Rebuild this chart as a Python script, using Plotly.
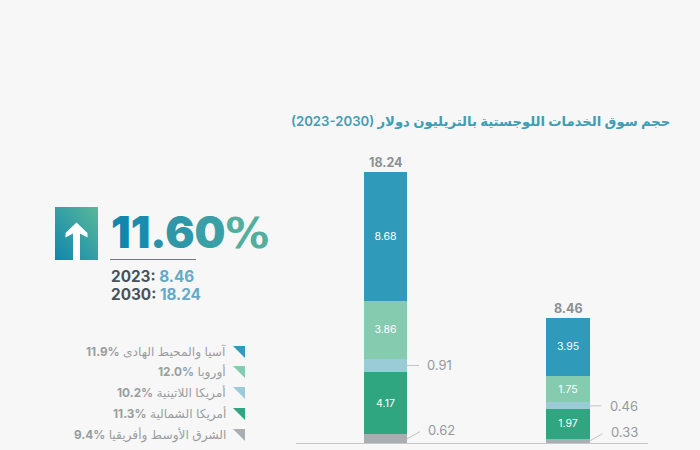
import base64
import plotly.graph_objects as go

years = ["2030", "2023"]
regions = ["الشرق الأوسط وأفريقيا", "أمريكا الشمالية", "أمريكا اللاتينية", "أوروبا", "آسيا والمحيط الهادى"]
growth = ["9.4%", "11.3%", "10.2%", "12.0%", "11.9%"]
colors = ["#a9aeb2", "#2fa67f", "#9accd8", "#84cbb0", "#2f9aba"]
v2030 = [0.62, 4.17, 0.91, 3.86, 8.68]
v2023 = [0.33, 1.97, 0.46, 1.75, 3.95]
totals = [18.24, 8.46]
cagr = "11.60%"
title = "حجم سوق الخدمات اللوجستية بالتريليون دولار"
span = "(2023-2030)"

W, H = 700, 450
BASE = 443.5
SCALE = 14.885
X0, X1 = 385.5, 568.0
UNIT = X1 - X0

def px(p):
    return p / W
def py(p):
    return 1 - p / H

fig = go.Figure()
for i, name in enumerate(regions):
    vals = [v2030[i], v2023[i]]
    inside = [f"{v:.2f}" if v >= 1 else "" for v in vals]
    fig.add_bar(x=years, y=vals, name=name, marker=dict(color=colors[i], line_width=0),
                text=inside, textposition="inside", insidetextanchor="middle",
                textangle=0, insidetextfont=dict(color="white", size=10.5, family="Inter"),
                hoverinfo="skip")

fig.update_layout(
    width=W, height=H, margin=dict(l=0, r=0, t=0, b=0), autosize=False,
    barmode="stack", bargap=0.762, showlegend=False,
    paper_bgcolor="#f7f7f7", plot_bgcolor="rgba(0,0,0,0)",
    font=dict(family="Inter, DejaVu Sans, sans-serif"),
    xaxis=dict(type="category", categoryorder="array", categoryarray=years,
               range=[(0 - X0) / UNIT, (W - X0) / UNIT], domain=[0, 1],
               showgrid=False, showline=False, zeroline=False, showticklabels=False, ticks=""),
    yaxis=dict(range=[(BASE - H) / SCALE, BASE / SCALE], domain=[0, 1],
               showgrid=False, zeroline=False, showline=False, showticklabels=False, ticks=""),
)

# baseline
fig.add_shape(type="line", xref="paper", yref="y", x0=px(296), x1=px(648), y0=0, y1=0,
              line=dict(color="#c4c6c8", width=1.2))

def note(text, x, y, size, color, anchor="left", family="Inter, DejaVu Sans", weight=None):
    fig.add_annotation(text=text, xref="paper", yref="paper", x=px(x), y=py(y), showarrow=False,
                       xanchor=anchor, yanchor="middle", align=anchor,
                       font=dict(size=size, color=color, family=family, weight=weight))

# totals above bars (category axes take the category's index here)
for i, t in enumerate(totals):
    fig.add_annotation(xref="x", yref="y", x=i, y=t, text=f"{t:.2f}", showarrow=False,
                       yanchor="bottom", yshift=0,
                       font=dict(size=12.5, color="#8c8f92", family="Inter", weight=700))

# outside labels with leader lines
def leader(cat, vals, idx, ax, ay):
    mid = sum(vals[:idx]) + vals[idx] / 2
    fig.add_annotation(xref="x", yref="y", x=cat, y=mid, xshift=21.5, ax=ax, ay=ay,
                       axref="pixel", ayref="pixel",
                       text=" ", showarrow=True, arrowhead=0, arrowwidth=1, arrowcolor="#c0c2c4",
                       standoff=0, startstandoff=0)
    fig.add_annotation(xref="x", yref="y", x=cat, y=mid, xshift=21.5 + ax + 3, yshift=-ay,
                       text=f"{vals[idx]:.2f}", showarrow=False, xanchor="left",
                       font=dict(size=13, color="#96999c", family="Inter"))

leader(0, v2030, 2, 15, 0)
leader(0, v2030, 0, 16, -9)
leader(1, v2023, 2, 15, 0)
leader(1, v2023, 0, 16, -9)

# title
note(f"{span} {title}", 672, 121, 13.2, "#3f9db4", anchor="right", weight=600)

# icon: gradient square with arrow
svg = ('<svg xmlns="http://www.w3.org/2000/svg" width="43" height="53" viewBox="0 0 43 53">'
       '<defs><linearGradient id="g" x1="0" y1="1" x2="1" y2="0">'
       '<stop offset="0" stop-color="#0f86ad"/><stop offset="1" stop-color="#5ab89a"/></linearGradient></defs>'
       '<rect width="43" height="53" fill="url(#g)"/>'
       '<path d="M21.5 15.5 L32.5 26 L32.5 30.5 L25 26.5 L25 53 L18 53 L18 26.5 L10.5 30.5 L10.5 26 Z" fill="#ffffff"/></svg>')
uri = "data:image/svg+xml;base64," + base64.b64encode(svg.encode()).decode()
fig.add_layout_image(source=uri, xref="paper", yref="paper", x=px(55), y=py(207), sizex=43 / W, sizey=53 / H,
                     xanchor="left", yanchor="top", sizing="stretch", layer="above")

# big percent with a per-glyph gradient; the percent sign uses a wider bold face
grad = ["#1286ab", "#1a8cae", "#2792a8", "#2f98a8", "#3a9fa6", "#52ae9d"]
big = "".join(f'<span style="color:{c}">{ch}</span>' for ch, c in zip(cagr[:-1], grad))
big += f'<span style="color:{grad[-1]};font-family:DejaVu Sans;font-weight:700">{cagr[-1]}</span>'
note(big, 109, 232, 43.5, "#1a8cae", weight=900)

fig.add_shape(type="line", xref="paper", yref="paper", x0=px(110), x1=px(196), y0=py(259.5), y1=py(259.5),
              line=dict(color="#6f7b86", width=1))
note(f'2023: <span style="color:#64a9c6">{totals[1]:.2f}</span>', 109, 276, 15.3, "#47525c", weight=700)
note(f'2030: <span style="color:#64a9c6">{totals[0]:.2f}</span>', 109, 294, 15.3, "#47525c", weight=700)

# legend rows, top to bottom
rows_y = [352, 372, 393, 414, 435]
for ry, name, g, c in zip(rows_y, regions[::-1], growth[::-1], colors[::-1]):
    note(f'<span style="font-size:11.8px"><b>{g}</b></span> {name}', 228, ry, 12.2, "#9a9da0", anchor="right")
    fig.add_shape(type="path", xref="paper", yref="paper", line_width=0, fillcolor=c,
                  path=f"M {px(233)} {py(ry-6)} L {px(245)} {py(ry-6)} L {px(245)} {py(ry+6)} Z")

fig.write_html("out.html", config=dict(displayModeBar=False),
               post_script="document.body.style.margin='0';document.body.style.background='#f7f7f7';")
